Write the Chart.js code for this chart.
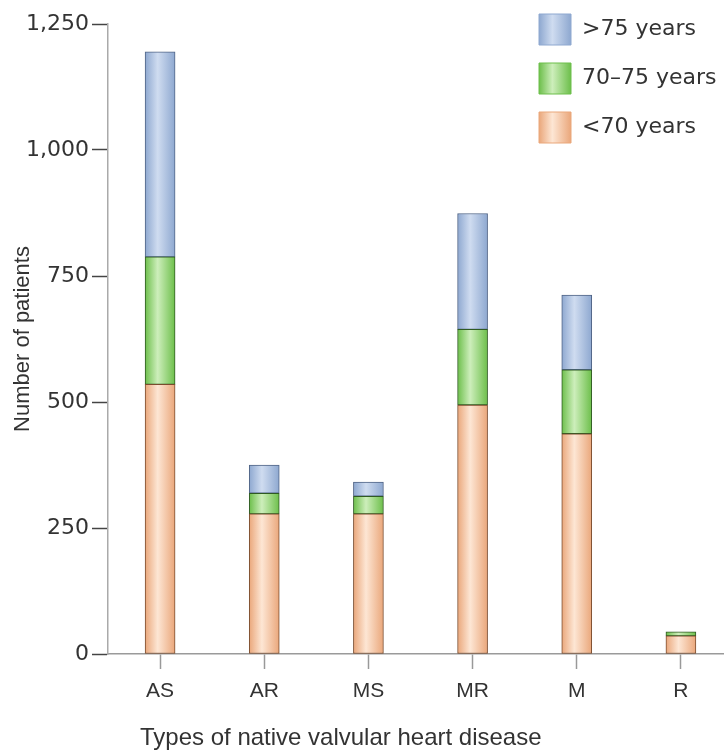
<!DOCTYPE html>
<html>
<head>
<meta charset="utf-8">
<script src="https://cdn.jsdelivr.net/npm/chart.js@4.4.1/dist/chart.umd.min.js"></script>
<style>
  html, body { margin: 0; padding: 0; background: #fff; overflow: hidden; }
  #wrap { position: relative; width: 733px; height: 751px; }
  #xtitle {
    position: absolute; left: 140px; top: 723px;
    font: 24px "Liberation Sans", Arial, sans-serif; color: #333; line-height: 28px;
  }
</style>
</head>
<body>
<div id="wrap">
  <canvas id="myChart"></canvas>
  <div id="xtitle">Types of native valvular heart disease</div>
</div>
<script>
let categorias = ['AS', 'AR', 'MS', 'MR', 'M', 'R']
let menos70 = [535, 278, 278, 494, 437, 36]
let entre70y75 = [253, 41, 35, 150, 127, 8]
let mas75 = [407, 56, 28, 230, 148, 0]
let ticksY = [0, 250, 500, 750, 1000, 1250]

// colores: borde, centro claro, linea
let azul = ['#8ea8d0', '#cfdcf0', '#4f6385']
let verde = ['#6dbf4b', '#cdeebb', '#2f5a22']
let naranja = ['#eaa77b', '#fde6d4', '#7a4c2e']

function degradado(c, x0, x1, col) {
  let g = c.createLinearGradient(x0, 0, x1, 0)
  g.addColorStop(0, col[0])
  g.addColorStop(0.42, col[1])
  g.addColorStop(1, col[0])
  return g
}

function relleno(col) {
  return function (ctx) {
    let chart = ctx.chart
    if (ctx.dataIndex === undefined || !chart.chartArea) return col[0]
    let x = chart.scales.x.getPixelForValue(ctx.dataIndex)
    return degradado(chart.ctx, x - 15, x + 15, col)
  }
}

let data = {
  labels: categorias,
  datasets: [
    { label: '<70 years', data: menos70, backgroundColor: relleno(naranja), borderColor: naranja[2], col: naranja },
    { label: '70\u201375 years', data: entre70y75, backgroundColor: relleno(verde), borderColor: verde[2], col: verde },
    { label: '>75 years', data: mas75, backgroundColor: relleno(azul), borderColor: azul[2], col: azul }
  ]
}

// mueve la leyenda a la esquina superior derecha
const moverLeyenda = {
  id: 'moverLeyenda',
  afterLayout(chart) {
    let lg = chart.legend
    let pad = lg.options.labels.padding
    lg.left = 539 - pad
    lg.top = 14 - pad
  }
}

const config = {
  type: 'bar',
  data: data,
  plugins: [moverLeyenda],
  options: {
    responsive: false,
    animation: false,
    layout: { padding: { top: 24, left: 0, right: 0, bottom: 0 } },
    datasets: {
      bar: { barThickness: 30, borderWidth: 1, borderSkipped: false }
    },
    plugins: {
      tooltip: { enabled: false },
      legend: {
        position: 'chartArea',
        align: 'start',
        reverse: true,
        labels: {
          boxWidth: 32,
          boxHeight: 31,
          padding: 18,
          color: '#333',
          font: { family: '"DejaVu Sans", Verdana, sans-serif', size: 22 },
          generateLabels(chart) {
            let items = Chart.defaults.plugins.legend.labels.generateLabels(chart)
            items.forEach(it => {
              let col = chart.data.datasets[it.datasetIndex].col
              it.fillStyle = degradado(chart.ctx, 539, 571, col)
              it.strokeStyle = col[0]
              it.lineWidth = 1
            })
            return items
          }
        }
      }
    },
    scales: {
      x: {
        stacked: true,
        afterFit(s) { s.height = 97 },
        border: { color: '#9a9a9a', width: 1.5 },
        grid: { offset: false, drawOnChartArea: false, tickLength: 15, tickColor: '#999', tickWidth: 1.5 },
        ticks: {
          padding: 10,
          color: '#333',
          font: { family: '"Liberation Sans", Arial, sans-serif', size: 21 }
        }
      },
      y: {
        stacked: true,
        min: 0,
        max: 1250,
        afterFit(s) { s.width = 108 },
        afterBuildTicks(s) { s.ticks = ticksY.map(v => ({ value: v })) },
        border: { color: '#aaa', width: 1.5 },
        grid: { drawOnChartArea: false, tickLength: 16, tickColor: '#444', tickWidth: 1.5 },
        ticks: {
          padding: 3,
          color: '#333',
          font: { family: '"DejaVu Sans", Verdana, sans-serif', size: 22 },
          callback: v => v.toLocaleString('en-US')
        },
        title: {
          display: true,
          text: 'Number of patients',
          color: '#333',
          padding: { top: 10, bottom: 0 },
          font: { family: '"Liberation Sans", Arial, sans-serif', size: 22 }
        }
      }
    }
  }
}

window.onload = function () {
  let cv = document.getElementById('myChart')
  cv.width = 733
  cv.height = 751
  new Chart(cv, config)
}
</script>
</body>
</html>
